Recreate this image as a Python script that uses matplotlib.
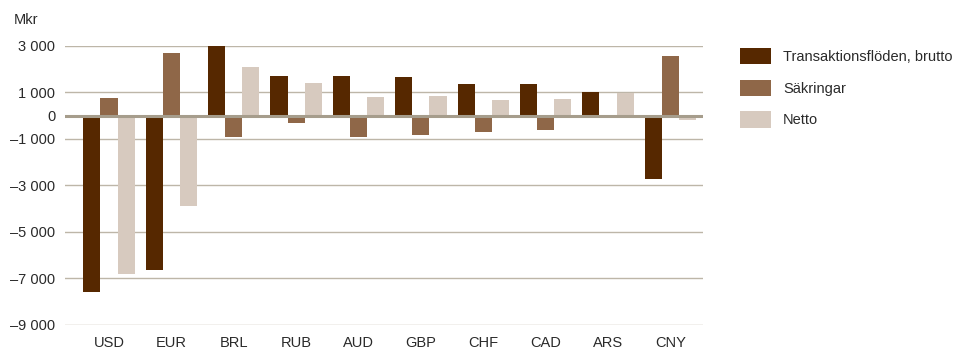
import numpy as np
import matplotlib.pyplot as plt
from matplotlib.patches import Patch

plt.rcParams['font.family'] = ['Liberation Sans', 'DejaVu Sans']

currencies = ['USD', 'EUR', 'BRL', 'RUB', 'AUD', 'GBP', 'CHF', 'CAD', 'ARS', 'CNY']
gross = [-7600, -6650, 3000, 1700, 1700, 1660, 1360, 1360, 1010, -2740]
hedges = [750, 2700, -900, -300, -910, -840, -710, -620, 0, 2560]
net = [-6800, -3900, 2100, 1400, 800, 840, 670, 710, 980, -190]

series_names = ['Transaktionsflöden, brutto', 'Säkringar', 'Netto']
colors = ['#562800', '#8f6748', '#d7cabf']

yticks = [3000, 1000, 0, -1000, -3000, -5000, -7000, -9000]


def fmt(v):
    s = f"{abs(v):,}".replace(',', ' ')
    return ('–' + s) if v < 0 else s


fig = plt.figure(figsize=(9.63, 3.49), dpi=100)
ax = fig.add_axes([0.0675, 0.0688, 0.663, 0.800])

x = np.arange(len(currencies))
w = 0.275
for i, (vals, c) in enumerate(zip([gross, hedges, net], colors)):
    ax.bar(x + (i - 1) * w, vals, width=w, color=c, zorder=3, clip_on=False)

for t in yticks:
    if t == 0:
        ax.axhline(0, color='#a69d8c', lw=2.2, zorder=4)
    else:
        ax.axhline(t, color='#bdb6a8', lw=1.0, zorder=1)

ax.set_xlim(-0.705, 9.53)
ax.set_ylim(-9000, 3000)
ax.set_yticks(yticks)
ax.set_yticklabels([fmt(t) for t in yticks], fontsize=10.5, color='#2a2a2a')
ax.set_xticks(x)
ax.set_xticklabels(currencies, fontsize=10.5, color='#2a2a2a')
ax.tick_params(axis='both', length=0)
ax.tick_params(axis='y', pad=7)
ax.tick_params(axis='x', pad=8)
for s in ax.spines.values():
    s.set_visible(False)

fig.text(14 / 963, 1 - 20 / 349, 'Mkr', fontsize=10.5, color='#2a2a2a', va='center', ha='left')

# legend placed by hand to the right of the plot
handles = [Patch(facecolor=c, edgecolor='none') for c in colors]
fig.legend(handles, series_names, loc='upper left', bbox_to_anchor=(740 / 963, 1 - 48 / 349),
           frameon=False, fontsize=10.5, handlelength=2.15, handleheight=1.35,
           handletextpad=0.8, labelspacing=1.05, borderaxespad=0, borderpad=0,
           labelcolor='#2a2a2a')

fig.savefig('out.png', dpi=100)
